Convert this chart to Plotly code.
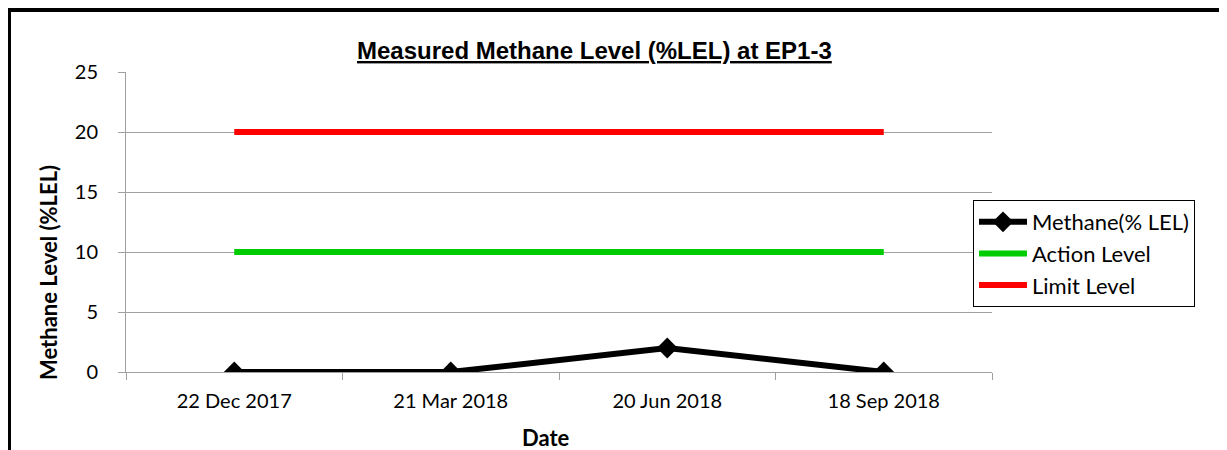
import plotly.graph_objects as go

dates = ["22 Dec 2017", "21 Mar 2018", "20 Jun 2018", "18 Sep 2018"]
methane = [0, 0, 2, 0]
action_level = [10, 10, 10, 10]
limit_level = [20, 20, 20, 20]

# The page places the figure 8px in from the top-left corner (browser body margin),
# so layout positions below are given in window pixels and shifted by OFF.
OFF = 8
W, H = 1227, 450
PL, PR, PT, PB = 126, 992, 72, 372   # plot area in window pixels
ML, MT = PL - OFF, PT - OFF
MR, MB = W - (PR - OFF), H - (PB - OFF)
PW, PH = PR - PL, PB - PT

def px_x(p):
    return (p - PL) / PW

def px_y(p):
    return (PB - p) / PH

fig = go.Figure()
fig.add_trace(go.Scatter(x=dates, y=methane, name="Methane(% LEL)", mode="lines+markers",
                         line=dict(color="black", width=6),
                         marker=dict(symbol="diamond", size=16, color="black")))
fig.add_trace(go.Scatter(x=dates, y=action_level, name="Action Level", mode="lines",
                         line=dict(color="#00cc00", width=6)))
fig.add_trace(go.Scatter(x=dates, y=limit_level, name="Limit Level", mode="lines",
                         line=dict(color="#ff0000", width=6)))

font_fam = "Lato, Carlito, sans-serif"
tickfont = dict(family=font_fam, size=20, color="black")

fig.update_layout(
    width=W, height=H,
    margin=dict(l=ML, r=MR, t=MT, b=MB),
    paper_bgcolor="white", plot_bgcolor="white",
    showlegend=True,
    legend=dict(x=px_x(973), y=px_y(200), xanchor="left", yanchor="top",
                bordercolor="black", borderwidth=1, bgcolor="white",
                font=dict(family=font_fam, size=22, color="black"),
                tracegroupgap=0, itemwidth=48),
    xaxis=dict(type="category", range=[-0.5, 3.5], showgrid=False, showline=True,
               linecolor="#a0a0a0", linewidth=1, ticks="outside", tickson="boundaries",
               ticklen=7, tickcolor="#a0a0a0", tickfont=tickfont, zeroline=False,
               ticklabelstandoff=11),
    yaxis=dict(range=[0, 25], dtick=5, showgrid=True, gridcolor="#a0a0a0", gridwidth=1,
               showline=True, linecolor="#a0a0a0", linewidth=1, ticks="outside",
               ticklen=7, tickcolor="#a0a0a0", tickfont=tickfont, zeroline=False,
               ticklabelstandoff=16),
    annotations=[
        dict(text="<b><u>Measured Methane Level (%LEL) at EP1-3</u></b>",
             x=px_x(594), y=px_y(50), xref="paper", yref="paper",
             xanchor="center", yanchor="middle", showarrow=False,
             font=dict(family="Liberation Sans, Arial, sans-serif", size=24, color="black")),
        dict(text="<b>Methane Level (%LEL)</b>", textangle=-90,
             x=px_x(48), y=px_y(273), xref="paper", yref="paper",
             xanchor="center", yanchor="middle", showarrow=False,
             font=dict(family=font_fam, size=22, color="black")),
        dict(text="<b>Date</b>",
             x=px_x(546), y=px_y(437), xref="paper", yref="paper",
             xanchor="center", yanchor="middle", showarrow=False,
             font=dict(family=font_fam, size=22, color="black")),
    ],
    shapes=[
        dict(type="rect", xref="paper", yref="paper",
             x0=px_x(OFF + 1), x1=px_x(1260), y0=px_y(OFF + 2), y1=px_y(480),
             line=dict(color="black", width=4), fillcolor="rgba(0,0,0,0)", layer="above"),
    ],
)

fig.write_html("out.html")
